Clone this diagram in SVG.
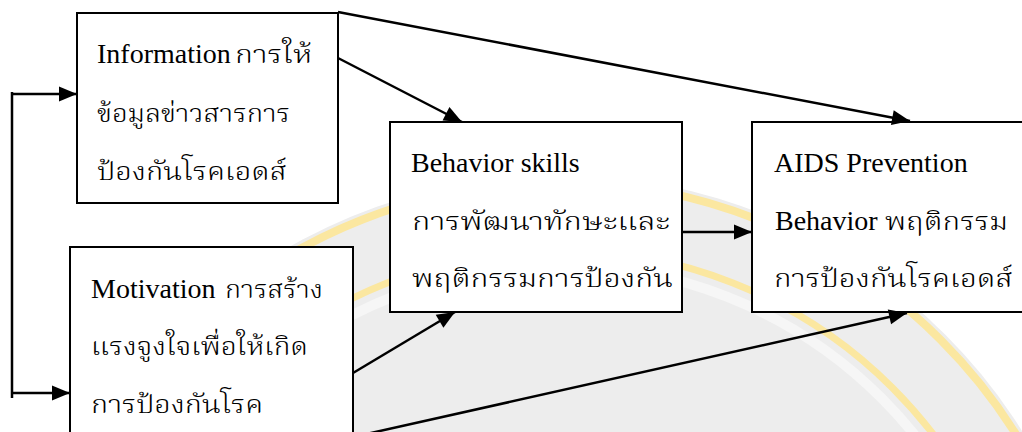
<svg xmlns="http://www.w3.org/2000/svg" width="1022" height="432" viewBox="0 0 1022 432">
<defs>
<style>
.box{fill:#ffffff;stroke:#000000;stroke-width:2}
.t{font-family:"Liberation Serif","Norasi","Laksaman","Noto Serif Thai","Noto Sans Thai",serif;font-size:28px;fill:#000000}
.th{font-size:25px;font-weight:300}
.ln{fill:none;stroke:#000000;stroke-width:2.5}
.ring{fill:none;stroke:#fbe7a0}
</style>
<marker id="ah" markerUnits="userSpaceOnUse" viewBox="0 0 19 16" markerWidth="19" markerHeight="16" refX="18" refY="8" orient="auto" overflow="visible">
<path d="M0,0.5 L18,8 L0,15.5 z" fill="#000000"/>
</marker>
</defs>
<rect width="1022" height="432" fill="#ffffff"/>
<g id="watermark">
<circle cx="560" cy="720" r="545" fill="#ededed"/>
<circle cx="560" cy="720" r="538" class="ring" stroke-width="8"/>
<circle cx="560" cy="720" r="470" class="ring" stroke-width="7"/>
<circle cx="560" cy="720" r="455" fill="none" stroke="#f6f6f6" stroke-width="10"/>
</g>
<g id="node-information">
<rect class="box" x="77" y="13" width="261" height="190"/>
<text class="t" y="63"><tspan x="97">Information</tspan><tspan class="th" x="235" textLength="77" lengthAdjust="spacingAndGlyphs">การให้</tspan></text>
<text class="t th" y="122"><tspan x="97" textLength="193" lengthAdjust="spacingAndGlyphs">ข้อมูลข่าวสารการ</tspan></text>
<text class="t th" y="180"><tspan x="97" textLength="190" lengthAdjust="spacingAndGlyphs">ป้องกันโรคเอดส์</tspan></text>
</g>
<g id="node-motivation">
<rect class="box" x="70" y="247" width="283" height="200"/>
<text class="t" y="298"><tspan x="91">Motivation</tspan><tspan class="th" x="225" textLength="98" lengthAdjust="spacingAndGlyphs">การสร้าง</tspan></text>
<text class="t th" y="355"><tspan x="91" textLength="217" lengthAdjust="spacingAndGlyphs">แรงจูงใจเพื่อให้เกิด</tspan></text>
<text class="t th" y="413"><tspan x="91" textLength="172" lengthAdjust="spacingAndGlyphs">การป้องกันโรค</tspan></text>
</g>
<g id="node-behavior-skills">
<rect class="box" x="390" y="122" width="292" height="190"/>
<text class="t" x="411" y="172">Behavior skills</text>
<text class="t th" y="230"><tspan x="412" textLength="258" lengthAdjust="spacingAndGlyphs">การพัฒนาทักษะและ</tspan></text>
<text class="t th" y="287"><tspan x="412" textLength="261" lengthAdjust="spacingAndGlyphs">พฤติกรรมการป้องกัน</tspan></text>
</g>
<g id="node-aids-prevention">
<rect class="box" x="752" y="122" width="280" height="190"/>
<text class="t" x="774" y="172">AIDS Prevention</text>
<text class="t" y="230"><tspan x="775">Behavior</tspan><tspan class="th" x="885" textLength="123" lengthAdjust="spacingAndGlyphs">พฤติกรรม</tspan></text>
<text class="t th" y="287"><tspan x="774" textLength="239" lengthAdjust="spacingAndGlyphs">การป้องกันโรคเอดส์</tspan></text>
</g>
<g id="connectors">
<path class="ln" d="M12,398 V92"/>
<path class="ln" d="M11,94 H77" marker-end="url(#ah)"/>
<path class="ln" d="M12,393 H70" marker-end="url(#ah)"/>
<path class="ln" d="M338,12 L910,121" marker-end="url(#ah)"/>
<path class="ln" d="M338,58 L462,122" marker-end="url(#ah)"/>
<path class="ln" d="M353,373 L455,312" marker-end="url(#ah)"/>
<path class="ln" d="M353,437 L907,313" marker-end="url(#ah)"/>
<path class="ln" d="M682,232 H752" marker-end="url(#ah)"/>
</g>
</svg>
